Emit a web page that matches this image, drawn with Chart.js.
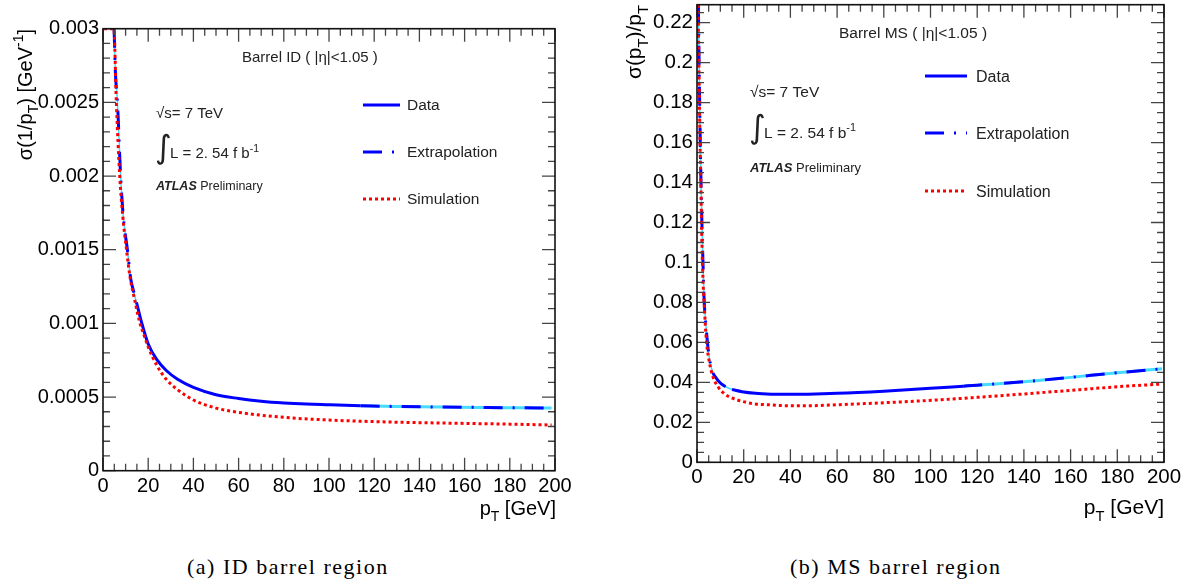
<!DOCTYPE html>
<html>
<head>
<meta charset="utf-8">
<script src="https://cdn.jsdelivr.net/npm/chart.js@4.4.1/dist/chart.umd.min.js"></script>
<style>
  body { margin: 0; background: #fff; width: 1191px; height: 583px; overflow: hidden; position: relative; }
  canvas { position: absolute; top: 0; }
  #idChart { left: 0; }
  #msChart { left: 600px; }
  .caption { position: absolute; top: 555px; line-height: 24px; font-family: "Liberation Serif", serif;
             font-size: 22px; letter-spacing: 1.5px; color: #000; white-space: nowrap; }
</style>
</head>
<body>
<canvas id="idChart" width="600" height="540"></canvas>
<canvas id="msChart" width="591" height="540"></canvas>
<div class="caption" style="left:187px">(a) ID barrel region</div>
<div class="caption" style="left:790px">(b) MS barrel region</div>
<script>
// axes
const xTickValues = [0, 20, 40, 60, 80, 100, 120, 140, 160, 180, 200];
const xTickLabels = ['0', '20', '40', '60', '80', '100', '120', '140', '160', '180', '200'];
const idYTickValues = [0, 0.0005, 0.001, 0.0015, 0.002, 0.0025, 0.003];
const idYTickLabels = ['0', '0.0005', '0.001', '0.0015', '0.002', '0.0025', '0.003'];
const msYTickValues = [0, 0.02, 0.04, 0.06, 0.08, 0.1, 0.12, 0.14, 0.16, 0.18, 0.2, 0.22];
const msYTickLabels = ['0', '0.02', '0.04', '0.06', '0.08', '0.1', '0.12', '0.14', '0.16', '0.18', '0.2', '0.22'];
const legendLabels = ['Data', 'Extrapolation', 'Simulation'];

// ID barrel: sigma(1/pT) [GeV^-1] vs pT [GeV]
const idDataX = [15, 17, 20, 24, 28, 33, 40, 50, 60, 70, 80, 90, 100, 114];
const idDataY = [0.00113, 0.00101, 0.00086, 0.00075, 0.00068, 0.00062, 0.000565, 0.000515, 0.00049, 0.000472, 0.00046, 0.000452, 0.000447, 0.00044];
const idExtrapLowX = [4.9, 5.5, 6.4, 7.8, 9, 10.8, 12.3, 13.5, 15];
const idExtrapLowY = [0.003, 0.0027, 0.0025, 0.002, 0.00172, 0.0015, 0.0013, 0.00122, 0.00113];
const idExtrapHighX = [114, 130, 150, 170, 185, 198.5];
const idExtrapHighY = [0.00044, 0.000436, 0.000432, 0.000429, 0.000427, 0.000425];
const idSimX = [0.5, 4.8, 5.9, 7.4, 8.8, 10.4, 12, 14, 16.2, 18.4, 20, 24, 28, 33, 40, 50, 60, 80, 100, 120, 140, 160, 180, 198.5];
const idSimY = [0.003, 0.003, 0.0025, 0.002, 0.00172, 0.0015, 0.00131, 0.00116, 0.00101, 0.00091, 0.00084, 0.00071, 0.00062, 0.00055, 0.00048, 0.000425, 0.000396, 0.000362, 0.000344, 0.000333, 0.000326, 0.000321, 0.000316, 0.00031];

// MS barrel: sigma(pT)/pT vs pT [GeV]
const msDataX = [15, 19.3, 25, 32, 39.3, 47.5, 60, 80, 100, 114];
const msDataY = [0.0364, 0.0353, 0.0345, 0.0341, 0.034, 0.0341, 0.0345, 0.0356, 0.037, 0.0381];
const msExtrapLowX = [0.6, 0.9, 1.4, 1.71, 2.14, 2.57, 3.0, 4.0, 5.0, 6.4, 8.3, 10.4, 12.5, 15];
const msExtrapLowY = [0.229, 0.2, 0.16, 0.14, 0.118, 0.0995, 0.0828, 0.0662, 0.0545, 0.0462, 0.042, 0.0392, 0.0377, 0.0364];
const msExtrapHighX = [114, 120, 140, 160, 180, 199.2];
const msExtrapHighY = [0.0381, 0.0386, 0.0403, 0.0425, 0.0448, 0.0468];
const msSimX = [0.45, 0.8, 1.3, 1.65, 2.0, 2.57, 3.3, 4.0, 5.4, 6.85, 9.0, 11.85, 15.4, 19.7, 25, 32, 39.3, 47.5, 60, 80, 100, 120, 140, 160, 180, 199.2];
const msSimY = [0.229, 0.2, 0.16, 0.14, 0.116, 0.0912, 0.0745, 0.0612, 0.0495, 0.0428, 0.0378, 0.0342, 0.032, 0.0304, 0.0292, 0.0287, 0.0283, 0.0283, 0.0288, 0.0298, 0.031, 0.0325, 0.0342, 0.036, 0.0378, 0.0392];

const FONT = '"Liberation Sans", Arial, sans-serif';
const BLUE = '#0000ff';
const RED = '#ff0000';
const CYAN = '#44ddff';
const EXTRAP_DASH = [19, 10, 2, 10];

function pts(xs, ys) {
    return xs.map((x, i) => ({ x: x, y: ys[i] }));
}

function lineSet(label, xs, ys, style) {
    return Object.assign({
        label: label,
        data: pts(xs, ys),
        pointRadius: 0,
        fill: false,
        cubicInterpolationMode: 'monotone',
        borderCapStyle: 'butt',
        clip: 0
    }, style);
}

// text with sub/superscripts: parts = [[text, 0 normal | 1 sub | 2 sup], ...]
function drawRich(ctx, parts, x, y, size, align, weight) {
    const font = s => (weight || '') + ' ' + s + 'px ' + FONT;
    let w = 0;
    parts.forEach(p => {
        ctx.font = font(p[1] ? size * 0.7 : size);
        w += ctx.measureText(p[0]).width;
    });
    let cx = align === 'right' ? x - w : x;
    ctx.textAlign = 'left';
    ctx.textBaseline = 'alphabetic';
    parts.forEach(p => {
        ctx.font = font(p[1] ? size * 0.7 : size);
        const dy = p[1] === 1 ? size * 0.32 : (p[1] === 2 ? -size * 0.45 : 0);
        ctx.fillText(p[0], cx, y + dy);
        cx += ctx.measureText(p[0]).width;
    });
}

// ROOT-like frame, inward ticks on all sides, labels and legend
const rootPlugin = {
    id: 'rootStyle',
    afterDraw(chart, args, o) {
        const ctx = chart.ctx;
        const a = chart.chartArea;
        const xs = chart.scales.x, ys = chart.scales.y;
        ctx.save();

        // ticks
        ctx.strokeStyle = '#444';
        ctx.lineWidth = 1.3;
        ctx.beginPath();
        for (let i = 0; i * 5 <= 200; i++) {
            const px = xs.getPixelForValue(i * 5);
            const len = i % 4 === 0 ? 13 : 7;
            ctx.moveTo(px, a.bottom); ctx.lineTo(px, a.bottom - len);
            ctx.moveTo(px, a.top); ctx.lineTo(px, a.top + len);
        }
        for (let i = 0; i * o.yMinor <= ys.max + 1e-12; i++) {
            const py = ys.getPixelForValue(i * o.yMinor);
            const len = i % o.yPerMajor === 0 ? 13 : 7;
            ctx.moveTo(a.left, py); ctx.lineTo(a.left + len, py);
            ctx.moveTo(a.right, py); ctx.lineTo(a.right - len, py);
        }
        ctx.stroke();

        // frame
        ctx.strokeStyle = '#111';
        ctx.lineWidth = 1.6;
        ctx.strokeRect(a.left, a.top, a.right - a.left, a.bottom - a.top);

        ctx.fillStyle = '#000';
        // y title (rotated)
        ctx.save();
        ctx.translate(o.yTitle.x, o.yTitle.top);
        ctx.rotate(-Math.PI / 2);
        drawRich(ctx, o.yTitle.parts, 0, o.yTitle.size * 0.35, o.yTitle.size, 'right');
        ctx.restore();
        // x title
        drawRich(ctx, [['p', 0], ['T', 1], [' [GeV]', 0]], o.xTitle.right, o.xTitle.y + o.xTitle.size * 0.35, o.xTitle.size, 'right');

        // annotations
        ctx.fillStyle = '#222';
        const t = o.text;
        drawRich(ctx, [[t.region, 0]], t.regionX, t.regionY + t.size * 0.35, t.size);
        drawRich(ctx, [['\u221As= 7 TeV', 0]], t.x, t.sqrtY + t.size * 0.35, t.size);
        ctx.font = t.intSize + 'px "DejaVu Sans", sans-serif';
        ctx.textBaseline = 'middle';
        ctx.fillText('\u222B', t.x - 1, t.intY);
        drawRich(ctx, [['L = 2. 54 f b', 0], ['-1', 2]], t.lumiX, t.lumiY + t.size * 0.35, t.size);
        drawRich(ctx, [['ATLAS', 0]], t.x, t.atlasY + t.atlasSize * 0.35, t.atlasSize, 'left', 'italic bold');
        ctx.font = 'bold italic ' + t.atlasSize + 'px ' + FONT;
        const aw = ctx.measureText('ATLAS ').width;
        drawRich(ctx, [['Preliminary', 0]], t.x + aw, t.atlasY + t.atlasSize * 0.35, t.atlasSize);

        // legend
        const L = o.legend;
        const styles = [
            { color: BLUE, dash: [] },
            { color: BLUE, dash: EXTRAP_DASH },
            { color: RED, dash: [3, 3] }
        ];
        legendLabels.forEach((lab, i) => {
            const y = L.ys[i];
            ctx.strokeStyle = styles[i].color;
            ctx.lineWidth = 3;
            ctx.setLineDash(styles[i].dash);
            ctx.beginPath();
            ctx.moveTo(L.x1, y); ctx.lineTo(L.x2, y);
            ctx.stroke();
            ctx.setLineDash([]);
            ctx.fillStyle = '#222';
            drawRich(ctx, [[lab, 0]], L.textX, y + L.size * 0.35, L.size);
        });
        ctx.restore();
    }
};

function makeChart(canvasId, d, o) {
    const zeroPad = s => { s.paddingTop = 0; s.paddingBottom = 0; s.paddingLeft = 0; s.paddingRight = 0; };
    return new Chart(document.getElementById(canvasId), {
        type: 'line',
        data: {
            datasets: [
                lineSet('Simulation', d.simX, d.simY, { borderColor: RED, borderWidth: 3, borderDash: [3, 3], order: 0 }),
                lineSet('Data', d.dataX, d.dataY, { borderColor: BLUE, borderWidth: 3, order: 1 }),
                lineSet('Extrapolation', d.lowX, d.lowY, { borderColor: BLUE, borderWidth: 3, borderDash: EXTRAP_DASH, order: 2 }),
                lineSet('Extrapolation', d.highX, d.highY, { borderColor: BLUE, borderWidth: 3, borderDash: EXTRAP_DASH, order: 2 }),
                lineSet('Extrapolation band', d.lowX, d.lowY, { borderColor: CYAN, borderWidth: 1.5, order: 3 }),
                lineSet('Extrapolation band', d.highX, d.highY, { borderColor: CYAN, borderWidth: 3, order: 3 })
            ]
        },
        options: {
            responsive: false,
            animation: false,
            devicePixelRatio: 1,
            layout: { padding: o.padding },
            plugins: {
                legend: { display: false },
                tooltip: { enabled: false },
                rootStyle: o
            },
            scales: {
                x: {
                    type: 'linear', min: 0, max: 200,
                    grid: { display: false, drawTicks: false, tickLength: 0 },
                    border: { display: false },
                    afterBuildTicks: s => { s.ticks = xTickValues.map(v => ({ value: v })); },
                    afterFit: s => { s.height = o.xAxisHeight; zeroPad(s); },
                    ticks: {
                        autoSkip: false, maxRotation: 0, padding: o.xPad, color: '#000',
                        font: { family: FONT, size: o.tickSize },
                        callback: (v, i) => xTickLabels[i]
                    }
                },
                y: {
                    type: 'linear', min: 0, max: o.yMax,
                    grid: { display: false, drawTicks: false, tickLength: 0 },
                    border: { display: false },
                    afterBuildTicks: s => { s.ticks = d.yTicks.map(v => ({ value: v })); },
                    afterFit: s => { s.width = o.yAxisWidth; zeroPad(s); },
                    ticks: {
                        autoSkip: false, padding: o.yPad, color: '#000',
                        font: { family: FONT, size: o.tickSize },
                        callback: (v, i) => d.yLabels[i]
                    }
                }
            }
        },
        plugins: [rootPlugin]
    });
}

makeChart('idChart', {
    dataX: idDataX, dataY: idDataY,
    lowX: idExtrapLowX, lowY: idExtrapLowY,
    highX: idExtrapHighX, highY: idExtrapHighY,
    simX: idSimX, simY: idSimY,
    yTicks: idYTickValues, yLabels: idYTickLabels
}, {
    padding: { left: 0, top: 28.7, right: 45, bottom: 0 },
    yAxisWidth: 103, xAxisHeight: 69.3, yMax: 0.003,
    xPad: 4, yPad: 4, tickSize: 20,
    yMinor: 0.0001, yPerMajor: 5,
    yTitle: { x: 25, top: 29, size: 20, parts: [['\u03C3(1/p', 0], ['T', 1], [') [GeV', 0], ['-1', 2], [']', 0]] },
    xTitle: { right: 556, y: 508, size: 20 },
    text: {
        size: 15, region: 'Barrel ID ( |\u03B7|<1.05 )', regionX: 242, regionY: 57,
        x: 156, sqrtY: 113, intSize: 32, intY: 150, lumiX: 170, lumiY: 153,
        atlasSize: 12.5, atlasY: 186
    },
    legend: { x1: 363, x2: 400, textX: 407, ys: [105, 152, 199], size: 15.5 }
});

makeChart('msChart', {
    dataX: msDataX, dataY: msDataY,
    lowX: msExtrapLowX, lowY: msExtrapLowY,
    highX: msExtrapHighX, highY: msExtrapHighY,
    simX: msSimX, simY: msSimY,
    yTicks: msYTickValues, yLabels: msYTickLabels
}, {
    padding: { left: 0, top: 4.7, right: 27, bottom: 0 },
    yAxisWidth: 97, xAxisHeight: 77.7, yMax: 0.229,
    xPad: 3, yPad: 4, tickSize: 20.5,
    yMinor: 0.005, yPerMajor: 4,
    yTitle: { x: 34, top: 5, size: 21, parts: [['\u03C3(p', 0], ['T', 1], [')/p', 0], ['T', 1]] },
    xTitle: { right: 564, y: 507, size: 21 },
    text: {
        size: 15.5, region: 'Barrel MS ( |\u03B7|<1.05 )', regionX: 239, regionY: 33,
        x: 150, sqrtY: 92, intSize: 32, intY: 130, lumiX: 164, lumiY: 133,
        atlasSize: 13, atlasY: 167
    },
    legend: { x1: 325, x2: 367, textX: 376, ys: [76, 133, 191], size: 16 }
});
</script>
</body>
</html>
